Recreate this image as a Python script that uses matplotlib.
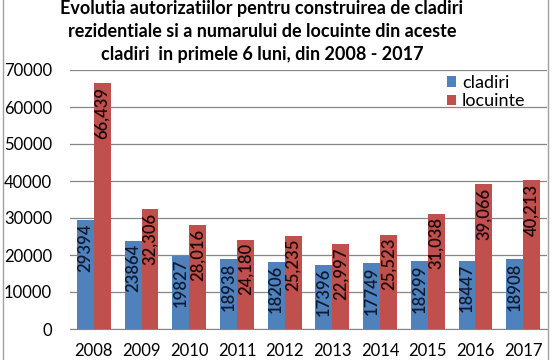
import matplotlib
matplotlib.use("Agg")
import matplotlib.pyplot as plt
import numpy as np
from matplotlib.lines import Line2D

years = ["2008", "2009", "2010", "2011", "2012", "2013", "2014", "2015", "2016", "2017"]
cladiri = [29394, 23864, 19827, 18938, 18206, 17396, 17749, 18299, 18447, 18908]
locuinte = [66439, 32306, 28016, 24180, 25235, 22997, 25523, 31038, 39066, 40213]
title = ("Evolutia autorizatiilor pentru construirea de cladiri\n"
         "rezidentiale si a numarului de locuinte din aceste\n"
         "cladiri  in primele 6 luni, din 2008 - 2017")

plt.rcParams['font.family'] = ['Lato', 'DejaVu Sans']

fig = plt.figure(figsize=(5.53, 3.6), dpi=100)
ax = fig.add_axes([70/553, 31/360, (547-70)/553, (329-70)/360])

blue = '#4F81BD'
red = '#C0504D'
x = np.arange(len(years))
w = 0.355
b1 = ax.bar(x - w/2, cladiri, w, color=blue, label='cladiri', zorder=3)
b2 = ax.bar(x + w/2, locuinte, w, color=red, label='locuinte', zorder=3)

for rect, v in zip(b1, cladiri):
    ax.text(rect.get_x() + rect.get_width()/2, v - 900, f"{v}", rotation=90,
            ha='center', va='top', fontsize=12, fontweight='semibold',
            color='#0f1a30', zorder=4)
for rect, v in zip(b2, locuinte):
    ax.text(rect.get_x() + rect.get_width()/2, v - 900, f"{v:,}", rotation=90,
            ha='center', va='top', fontsize=12, fontweight='semibold',
            color='#1e0808', zorder=4)

ax.set_xlim(-0.5, len(years) - 0.5)
ax.set_ylim(0, 70000)
ax.set_yticks(np.arange(0, 70001, 10000))
ax.set_xticks(x)
ax.set_xticklabels(years)
ax.tick_params(axis='y', length=0, labelsize=12, pad=13)
ax.tick_params(axis='x', length=0, labelsize=12, pad=10)
ax.grid(axis='y', color='#868686', linewidth=0.9, zorder=0)
for s in ['top', 'left', 'right']:
    ax.spines[s].set_visible(False)
ax.spines['bottom'].set_color('#868686')

ax.legend(loc='upper right', bbox_to_anchor=(538/553, 1 - 62/360),
          bbox_transform=fig.transFigure, frameon=False, fontsize=13,
          handlelength=0.55, handleheight=0.55, handletextpad=0.3,
          labelspacing=0.15, borderpad=0.2)

fig.text(262/553, 1.0, title, ha='center', va='top', fontsize=13,
         fontweight='bold', linespacing=1.42)

# chart border lines
fig.add_artist(Line2D([3/553, 3/553], [0, 1], color='#a0a0a0', lw=1, transform=fig.transFigure))
fig.add_artist(Line2D([548/553, 548/553], [0, 1], color='#a0a0a0', lw=1, transform=fig.transFigure))

fig.savefig('out.png', dpi=100)
